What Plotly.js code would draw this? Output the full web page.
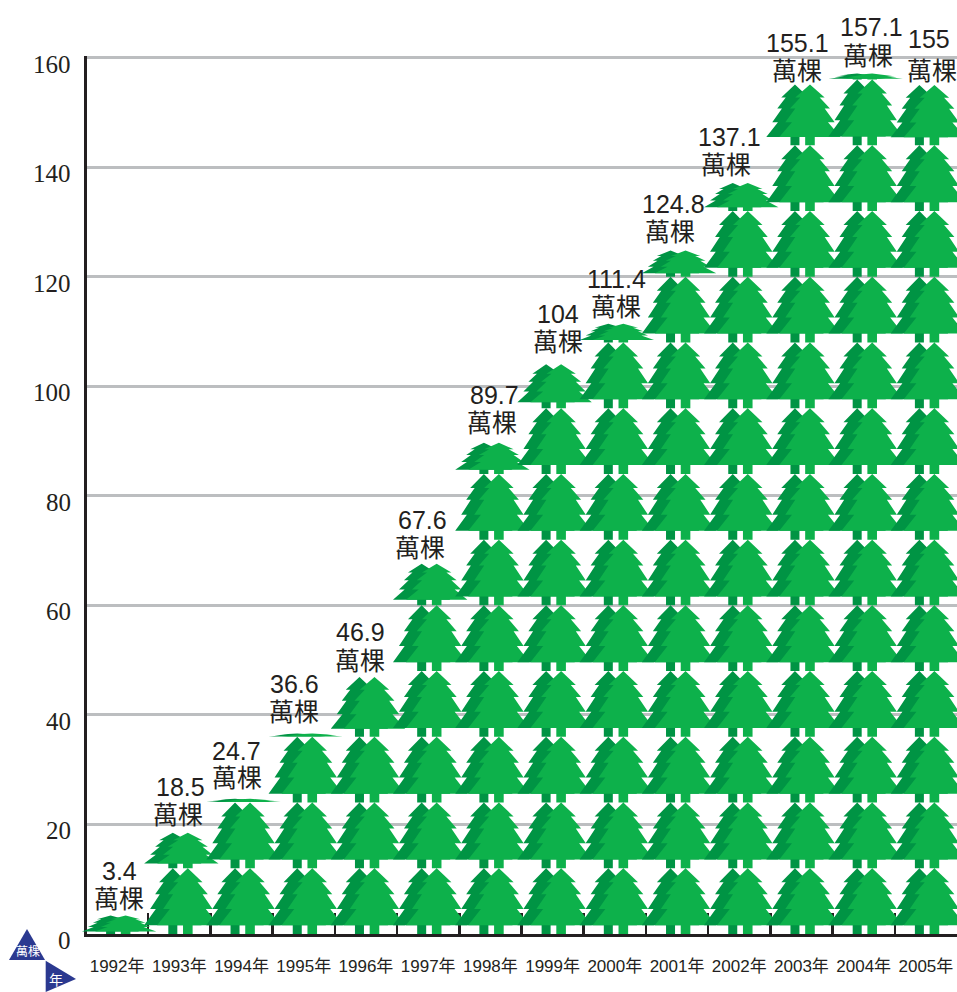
<!DOCTYPE html>
<html>
<head>
<meta charset="utf-8">
<script src="https://cdn.plot.ly/plotly-3.0.1.min.js"></script>
<style>html,body{margin:0;padding:0;background:#fff}#c{width:957px;height:992px}</style>
</head>
<body>
<div id="c"></div>
<script>
const years = ['1992年','1993年','1994年','1995年','1996年','1997年','1998年','1999年','2000年','2001年','2002年','2003年','2004年','2005年'];
const trees = [3.4,18.5,24.7,36.6,46.9,67.6,89.7,104,111.4,124.8,137.1,155.1,157.1,155];
const labels = ['3.4','18.5','24.7','36.6','46.9','67.6','89.7','104','111.4','124.8','137.1','155.1','157.1','155'];
const unitLabel = '萬棵';
const yTicks = [0,20,40,60,80,100,120,140,160];

// One whole tree stands for this many 萬棵; a partial tree is squashed, not cut.
const perTree = 12;
// Label placement nudges in pixels, relative to the column centre / top of the stack
const numDx = [2,1,-5,-9,-5,-6,4,5,2,-4,-10,-4,8,3];
const unitDx = [2,-1,-5,-10,-6,-8,2,5,1,-7,-13,-4,4,6];
const numUp = [44,46,48,50,45,44,48,50,45,46,46,41,47,46];
const unitUp = [18,20,23,24,18,18,22,24,19,20,20,15,20,16];

const W = 957, H = 992, L = 87, PL = 76, B = 934;
const yMax = 160.3;
const T = 57.5 - (yMax - 160) * (B - 57.5) / 160;
const pitch = 62.2;
const pxX = p => (p - PL) / (W - PL);
const pxY = p => (B - p) / (B - T);
const xStart = -0.5 + 1 / pitch;

// Tree silhouette: half width in px, height as a fraction of the tree
const darkOutline  = [[0,1],[13.7,.787],[9.2,.787],[17.7,.605],[13,.605],[22.7,.38],[17,.38],[28.7,.135],[4.5,.135],[4.5,0]];
const lightOutline = [[0,1],[14.7,.787],[9.7,.787],[20,.605],[14.7,.605],[24.7,.38],[18,.38],[30.7,.135],[4.8,.135],[4.8,0]];

function treePolys(i, value, offsetPx, outline) {
  const xs = [], ys = [];
  const n = Math.floor(value / perTree);
  const rest = value / perTree - n;
  const total = rest > 1e-6 ? n + 1 : n;
  const left = outline.slice().reverse().map(p => [-p[0], p[1]]);
  for (let k = 0; k < total; k++) {
    const h = k < n ? perTree : rest * perTree;
    const base = k * perTree;
    outline.concat(left).forEach(p => {
      xs.push(i + (offsetPx + p[0]) / pitch);
      ys.push(base + p[1] * h);
    });
    xs.push(null); ys.push(null);
  }
  return {xs, ys};
}

const data = [];
// carries the category axis with its ticks and labels
data.push({type:'scatter', mode:'none', x:years, y:trees, xaxis:'x', yaxis:'y', showlegend:false, hoverinfo:'skip'});
years.forEach((yr, i) => {
  [[-6.5,'#009444',darkOutline],[8.5,'#0DB14B',lightOutline]].forEach(([off, col, shape]) => {
    const p = treePolys(i, trees[i], off, shape);
    data.push({type:'scatter', mode:'lines', x:p.xs, y:p.ys, xaxis:'x2', yaxis:'y2', fill:'toself', fillcolor:col,
      line:{width:0,color:col}, hoverinfo:'skip', showlegend:false, connectgaps:false});
  });
});

const ink = '#231f20';
const sans = '"Liberation Sans","Noto Sans CJK TC",sans-serif';
const cjk = '"Noto Sans CJK TC",sans-serif';

const annotations = [];
years.forEach((yr, i) => {
  annotations.push({x:i, y:trees[i], xref:'x2', yref:'y2', text:labels[i], showarrow:false, xanchor:'center', yanchor:'middle',
    xshift:numDx[i], yshift:numUp[i], font:{family:sans,size:25,color:ink}});
  annotations.push({x:i, y:trees[i], xref:'x2', yref:'y2', text:unitLabel, showarrow:false, xanchor:'center', yanchor:'middle',
    xshift:unitDx[i], yshift:unitUp[i], font:{family:cjk,size:25,color:ink}});
});
yTicks.forEach(v => {
  annotations.push({xref:'paper', yref:'y', x:pxX(73), y:v, xanchor:'right', yanchor:'middle', yshift:-6.5,
    text:String(v), showarrow:false, font:{family:'"Liberation Serif",serif',size:25,color:ink}});
});
annotations.push({xref:'paper', yref:'paper', x:pxX(27.5), y:pxY(951), xanchor:'center', yanchor:'middle', text:unitLabel, showarrow:false,
  font:{family:cjk,size:12,color:'#fff'}});
annotations.push({xref:'paper', yref:'paper', x:pxX(56), y:pxY(979), xanchor:'center', yanchor:'middle', text:'年', showarrow:false,
  font:{family:cjk,size:14,color:'#fff'}});

const tri = pts => 'M' + pts.map(p => pxX(p[0]) + ',' + pxY(p[1])).join('L') + 'Z';
const shapes = [
  {type:'path', xref:'paper', yref:'paper', layer:'below', path:tri([[27,929],[9,960],[45,960]]), fillcolor:'#2B3990', line:{width:0}},
  {type:'path', xref:'paper', yref:'paper', layer:'below', path:tri([[45.7,960.7],[76,979],[45.7,992]]), fillcolor:'#2B3990', line:{width:0}}
];

const layout = {
  width:W, height:H, margin:{l:PL, r:0, t:T, b:H-B, pad:0},
  paper_bgcolor:'#fff', plot_bgcolor:'rgba(0,0,0,0)', showlegend:false,
  xaxis:{type:'category', categoryarray:years, categoryorder:'array', domain:[pxX(L),1], anchor:'y',
    range:[xStart, 13.5], tickson:'boundaries', ticks:'inside', ticklen:21, tickwidth:2.5, tickcolor:ink,
    showgrid:false, zeroline:false, showline:true, linecolor:ink, linewidth:3, layer:'below traces', tickangle:0, ticklabelstandoff:15,
    tickfont:{family:sans,size:17,color:ink}, fixedrange:true},
  yaxis:{range:[0,yMax], anchor:'x', tickmode:'array', tickvals:yTicks, showticklabels:false,
    showgrid:true, gridcolor:'#bcbec0', gridwidth:3, zeroline:false,
    showline:true, linecolor:ink, linewidth:3, layer:'below traces', ticks:'', fixedrange:true},
  xaxis2:{domain:[0,1], anchor:'y2', range:[xStart - (L - PL) / pitch, 13.5], visible:false, fixedrange:true},
  yaxis2:{domain:[0,1], anchor:'x2', range:[0,yMax], visible:false, fixedrange:true},
  annotations, shapes
};
Plotly.newPlot('c', data, layout, {displayModeBar:false, staticPlot:true});
</script>
</body>
</html>
